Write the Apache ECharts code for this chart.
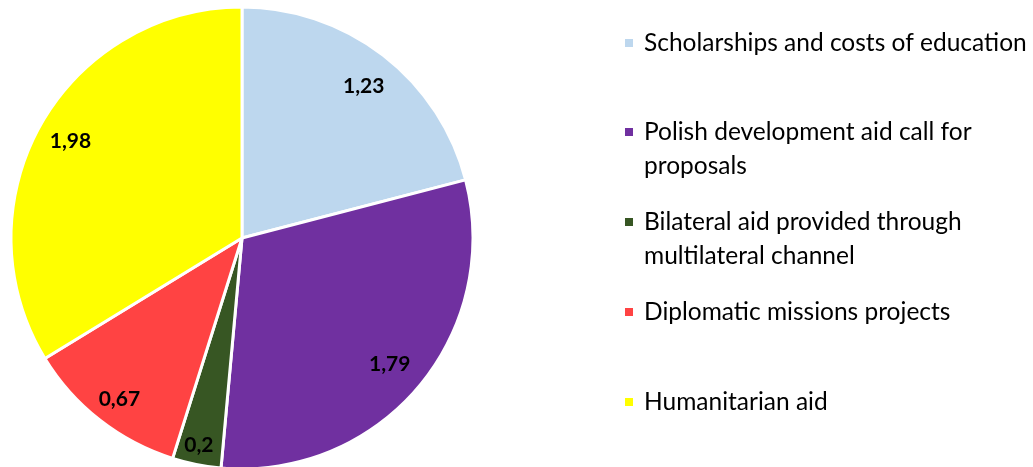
<!DOCTYPE html>
<html><head><meta charset="utf-8">
<script src="https://cdn.jsdelivr.net/npm/echarts@6/dist/echarts.min.js"></script>
<style>html,body{margin:0;padding:0;background:#fff}#c{width:1033px;height:467px}</style>
</head><body><div id="c"></div>
<script>
const categories = ["Scholarships and costs of education","Polish development aid call for proposals","Bilateral aid provided through multilateral channel","Diplomatic missions projects","Humanitarian aid"];
const legendLabels = ["Scholarships and costs of education","Polish development aid call for\nproposals","Bilateral aid provided through\nmultilateral channel","Diplomatic missions projects","Humanitarian aid"];
const values = [1.23, 1.79, 0.2, 0.67, 1.98];
const colors = ["#BDD7EE","#7030A0","#375623","#FF4343","#FFFF00"];

const chart = echarts.init(document.getElementById('c'), null, {renderer:'canvas'});
const font = 'Lato, "Open Sans", sans-serif';
const markerY = [43, 132, 222, 312, 402];
const legends = categories.map((name, i) => {
  const twoLine = legendLabels[i].indexOf('\n') >= 0;
  return {
    orient: 'vertical', left: 623, top: markerY[i] - (twoLine ? 51 : 17),
    padding: 0, itemWidth: 10, itemHeight: 10, icon: 'rect',
    selectedMode: false,
    data: [name],
    formatter: () => twoLine ? ' \n' + legendLabels[i] : legendLabels[i],
    textStyle: { fontFamily: font, fontSize: 24.5, color: '#000', lineHeight: 34,
      padding: [0,0,0,5] }
  };
});
const pieData = categories.map((n,i)=>({name:n, value:values[i], itemStyle:{color:colors[i]}}));
const labelOffsets = [[0,6],[-4,-3],[-4,12],[0,4],[2,1]];
chart.setOption({
  animation: false,
  color: colors,
  legend: legends,
  series: [
    { type:'pie', center:[242,238], radius:231, startAngle:90, clockwise:true,
      data: pieData, label:{show:false}, labelLine:{show:false},
      itemStyle:{borderColor:'#fff', borderWidth:3}, emphasis:{disabled:true} },
    { type:'pie', center:[242,238], radius:[161,231], startAngle:90, clockwise:true,
      data: categories.map((n,i)=>({name:n, value:values[i], label:{offset:labelOffsets[i]}})),
      itemStyle:{color:'rgba(0,0,0,0)'}, silent:true, emphasis:{disabled:true},
      label:{show:true, position:'inside', color:'#000', fontFamily:font, fontWeight:'bold', fontSize:21,
        formatter: p => String(p.value).replace('.', ',')},
      labelLine:{show:false} }
  ]
});
</script></body></html>
